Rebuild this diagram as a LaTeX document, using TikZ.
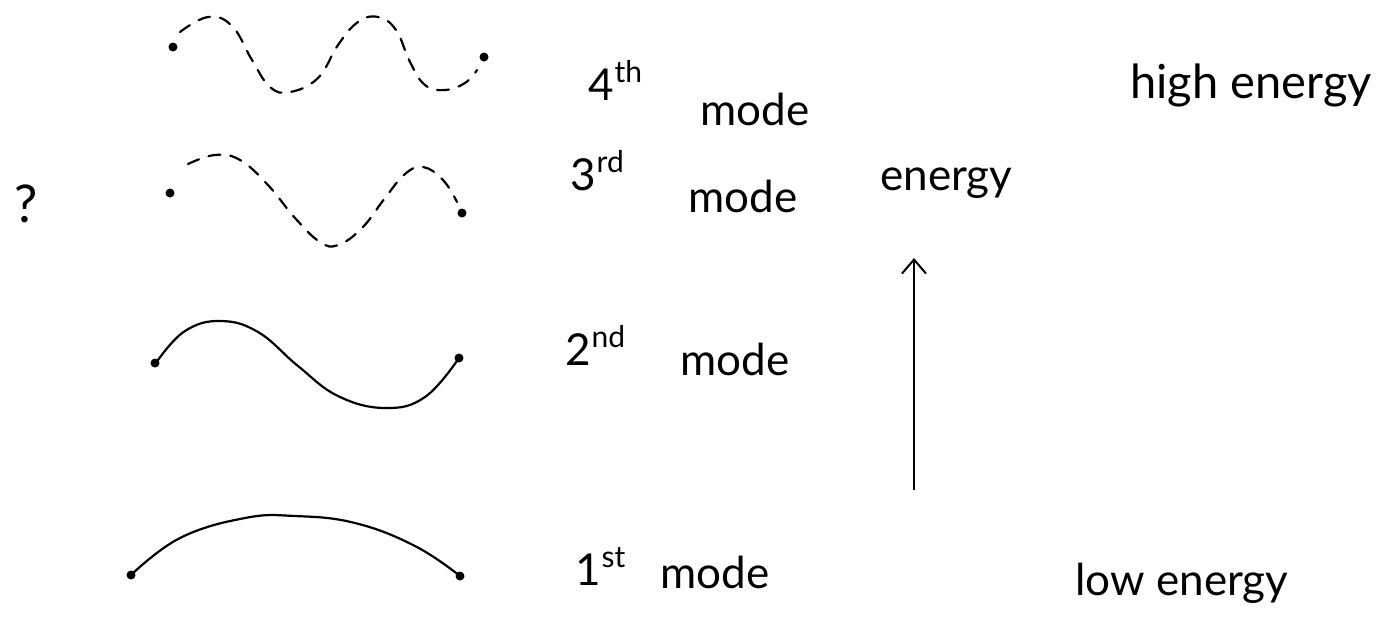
\documentclass[tikz,border=0pt]{standalone}
\usepackage{fontspec}
\setmainfont{Lato}
\usetikzlibrary{arrows.meta}
\begin{document}
\begin{tikzpicture}[x=0.5pt,y=-0.5pt,
  wave/.style={line width=1.1pt, line cap=round},
  dashwave/.style={wave, dash pattern=on 6pt off 5pt},
  enddot/.style={circle, fill=black, inner sep=0pt, minimum size=4.5pt},
  lbl/.style={anchor=base west, inner sep=0pt, font=\fontsize{22}{26}\selectfont},
  big/.style={anchor=base west, inner sep=0pt, font=\fontsize{23.5}{28}\selectfont},
  sup/.style={anchor=base west, inner sep=0pt, font=\fontsize{15}{18}\selectfont}]
\useasboundingbox (0,0) rectangle (1394,618);
% 4th mode
\node[enddot] (a1) at (173,47) {};
\node[enddot] (a2) at (484,57) {};
\draw[dashwave] plot[smooth, tension=0.7] coordinates {(180,32) (208,17) (232,26) (252,60) (270,87) (290,92) (318,78) (338,45) (358,22) (378,17) (396,30) (410,62) (425,85) (445,90) (465,83) (477,70)};
% 3rd mode
\node[enddot] (b1) at (170,193) {};
\node[enddot] (b2) at (462,213) {};
\draw[dashwave] plot[smooth, tension=0.7] coordinates {(188,164) (215,155) (240,160) (268,185) (295,218) (320,242) (338,245) (362,228) (385,198) (405,174) (423,167) (443,180) (457,202)};
% 2nd mode
\node[enddot] (c1) at (155,363) {};
\node[enddot] (c2) at (459,358) {};
\draw[wave] plot[smooth, tension=0.7] coordinates {(158,360) (185,331) (220,321) (258,332) (298,366) (338,396) (385,408) (425,397) (459,358)};
% 1st mode
\node[enddot] (d1) at (131,575) {};
\node[enddot] (d2) at (460,576) {};
\draw[wave] plot[smooth, tension=0.7] coordinates {(131,575) (180,538) (245,518) (295,516) (355,523) (415,546) (460,576)};
% question mark
\node[inner sep=0pt, font=\fontsize{26}{30}\selectfont] (q) at (26,204) {?};
% labels
\node[lbl] (l4) at (588,100) {4};
\node[sup] (l4s) at (l4.base east) [yshift=9pt] {th};
\node[lbl] (m4) at (700,125) {mode};
\node[lbl] (l3) at (570,190) {3};
\node[sup] (l3s) at (l3.base east) [yshift=9pt] {rd};
\node[lbl] (m3) at (688,212) {mode};
\node[lbl] (l2) at (565,365) {2};
\node[sup] (l2s) at (l2.base east) [yshift=9pt] {nd};
\node[lbl] (m2) at (680,375) {mode};
\node[lbl] (l1) at (575,585) {1};
\node[sup] (l1s) at (l1.base east) [yshift=9pt] {st};
\node[lbl] (m1) at (660,588) {mode};
\node[lbl] (en) at (880,190) {energy};
\node[big] (he) at (1130,98) {high energy};
\node[lbl] (le) at (1075,595) {low energy};
% arrow
\coordinate (ab) at (914,490);
\coordinate (at) at (914,258);
\draw[line width=1pt, -{Straight Barb[length=7pt, width=12pt]}] (ab) -- (at);
\end{tikzpicture}
\end{document}
